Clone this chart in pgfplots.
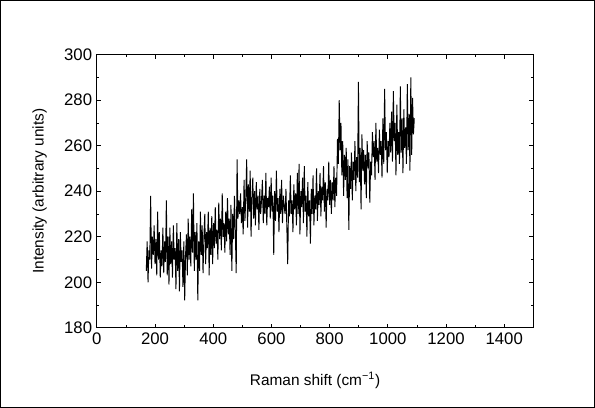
\documentclass[border=0pt]{standalone}
\usepackage{pgfplots}
\pgfplotsset{compat=1.18}
\usepackage{pgfplotstable}
\usepackage{fontspec}
\setmainfont{Liberation Sans}
\pgfplotstableread{
x y
170 205
173 218
176 200
179 214
182 210
185 238
188 206
191 220
194 212
197 225
200 208
203 219
206 203
209 231
212 210
215 222
218 202
221 214
224 207
227 224
230 204
233 218
236 209
239 236
242 203
245 220
248 199
251 224
254 208
257 218
260 202
263 225
266 210
269 215
272 197
275 226
278 205
281 219
284 196
287 222
290 209
293 214
296 198
299 218
302 192
305 212
308 221
311 203
314 228
317 210
320 220
323 207
326 232
329 213
332 239
335 205
338 222
341 210
344 226
347 192
350 218
353 205
356 231
359 212
362 225
365 204
368 220
371 230
374 208
377 222
380 215
383 231
386 203
389 224
392 212
395 229
398 208
401 226
404 215
407 233
410 217
413 223
416 210
419 235
422 219
425 228
428 214
431 239
434 220
437 226
440 213
443 231
446 218
449 237
452 221
455 228
458 212
461 234
464 205
467 230
470 219
473 238
476 222
479 204
482 254
485 228
488 236
491 230
494 239
497 226
500 233
503 221
506 245
509 227
512 238
515 254
518 224
521 243
524 231
527 249
530 220
533 237
536 246
539 228
542 240
545 225
548 244
551 232
554 238
557 223
560 241
563 230
566 236
569 245
572 226
575 238
578 230
581 248
584 225
587 237
590 233
593 242
596 228
599 246
602 231
605 238
608 212
611 240
614 227
617 249
620 231
623 237
626 222
629 241
632 230
635 245
638 226
641 238
644 233
647 230
650 241
653 224
656 208
659 236
662 229
665 247
668 230
671 236
674 222
677 243
680 232
683 239
686 225
689 248
692 230
695 252
698 221
701 240
704 233
707 246
710 226
713 251
716 231
719 238
722 220
725 244
728 229
731 236
734 217
737 241
740 230
743 247
746 225
749 238
752 232
755 250
758 227
761 240
764 234
767 248
770 229
773 242
776 236
779 251
782 231
785 244
788 224
791 241
794 236
797 253
800 234
803 245
806 230
809 244
812 236
815 251
818 233
821 246
824 238
827 263
830 252
833 280
836 258
839 270
842 247
845 262
848 238
851 256
854 245
857 259
860 237
863 254
866 223
869 251
872 241
875 257
878 236
881 253
884 245
887 262
890 240
893 255
896 246
899 288
902 244
905 259
908 232
911 265
914 249
917 258
920 243
923 256
926 237
929 262
932 250
935 257
938 235
941 253
944 247
947 266
950 255
953 262
956 245
959 270
962 253
965 259
968 248
971 267
974 256
977 262
980 246
983 272
986 252
989 285
992 258
995 266
998 248
1001 262
1004 255
1007 270
1010 257
1013 275
1016 253
1019 284
1022 262
1025 270
1028 247
1031 278
1034 256
1037 266
1040 252
1043 286
1046 257
1049 272
1052 248
1055 276
1058 259
1061 268
1064 252
1067 287
1070 258
1073 274
1076 249
1079 290
1082 256
1085 281
1088 265
1091 272
}\spectrum
\begin{document}
\begin{tikzpicture}
\begin{axis}[
  scale only axis,
  width=326pt, height=204pt,
  xmin=0, xmax=1500, ymin=180, ymax=300,
  xtick={0,200,...,1400}, ytick={180,200,...,300},
  minor x tick num=1, minor y tick num=1,
  tick align=inside,
  major tick length=3pt, minor tick length=2pt,
  axis line style={line width=0.6pt},
  tick style={black, line width=0.5pt},
  /pgf/number format/assume math mode=true,
  /pgf/number format/1000 sep={},
  ticklabel style={font=\fontsize{12.5}{14}\selectfont},
  label style={font=\fontsize{11.5}{13}\selectfont},
  xlabel={Raman shift (cm\textsuperscript{\textminus 1})},
  ylabel={Intensity (arbitrary units)},
  xlabel style={yshift=-14pt},
  ylabel style={yshift=6pt},
]
\addplot[black, line width=0.7pt] table[x=x, y=y] {\spectrum};
\end{axis}
\draw[line width=0.6pt] ([shift={(-72pt,-59.25pt)}]current axis.south west) rectangle ([shift={(45.75pt,40.5pt)}]current axis.north east);
\end{tikzpicture}
\end{document}
